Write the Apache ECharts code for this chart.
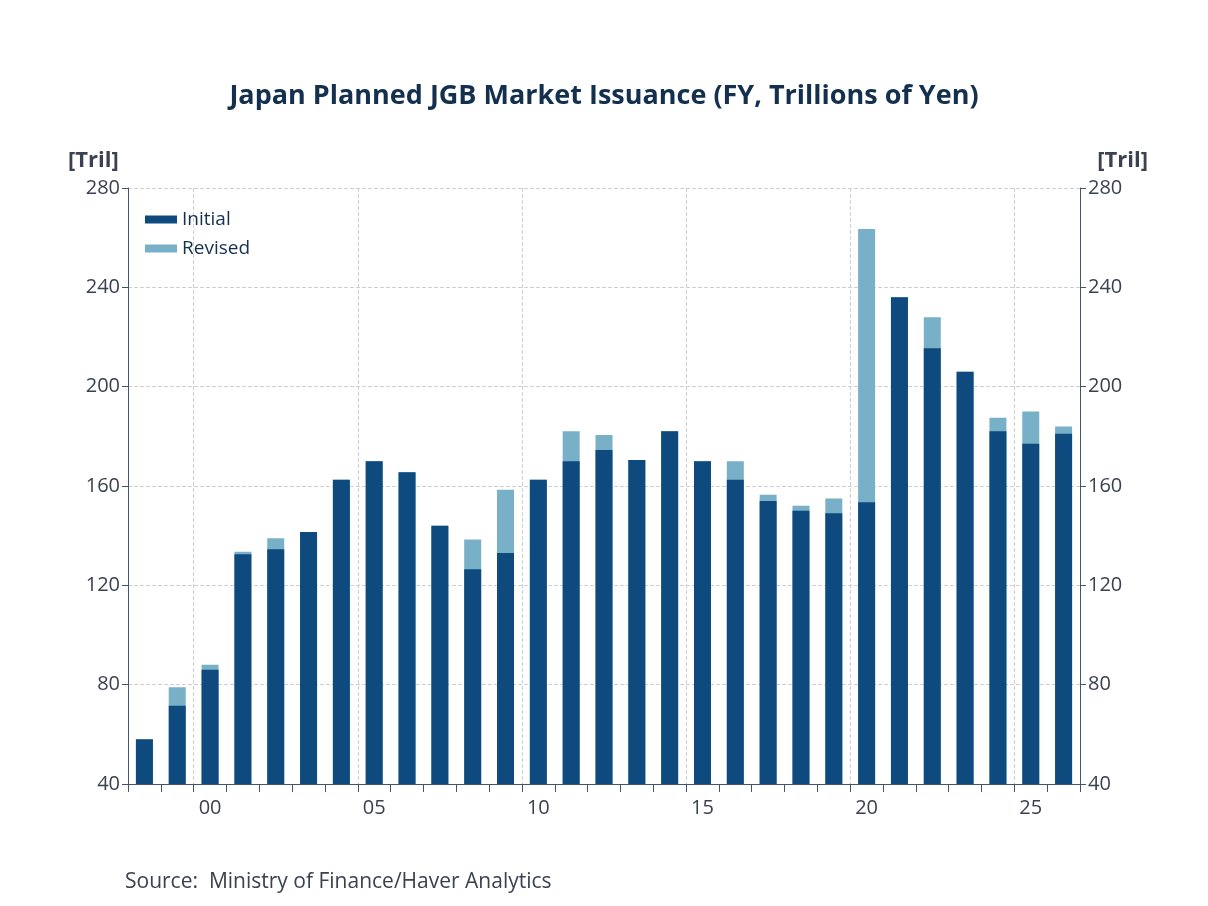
<!DOCTYPE html>
<html><head><meta charset="utf-8">
<script src="https://cdn.jsdelivr.net/npm/echarts@6/dist/echarts.min.js"></script>
<style>html,body{margin:0;padding:0;background:#fff}#c{width:1208px;height:906px}</style>
</head><body><div id="c"></div>
<script>
var years = ['98','99','00','01','02','03','04','05','06','07','08','09','10','11','12','13','14','15','16','17','18','19','20','21','22','23','24','25','26'];
var initial = [58,71.5,86,132.5,134.5,141.5,162.5,170,165.5,144,126.5,133,162.5,170,174.5,170.5,182,170,162.5,154,150,149,153.5,236,215.5,206,182,177,181];
var revised = [58,79,88,133.5,139,141.5,162.5,170,165.5,144,138.5,158.5,162.5,182,180.5,170.5,182,170,170,156.5,152,155,263.5,236,228,206,187.5,190,184];

var font = 'Open Sans';
var axisCol = '#44546a';
function yAxis(pos) {
  return {
    type: 'value', position: pos, min: 40, max: 280, interval: 40,
    axisLine: {show: true, lineStyle: {color: axisCol}},
    axisTick: {show: true, length: 6, inside: false, lineStyle: {color: axisCol}},
    axisLabel: {color: '#3a4150', fontSize: 20, fontFamily: font, margin: 8},
    splitLine: {show: pos === 'left', lineStyle: {color: '#d0d0d0', type: 'dashed'}}
  };
}
var chart = echarts.init(document.getElementById('c'));
chart.setOption({
  animation: false,
  title: {
    text: 'Japan Planned JGB Market Issuance (FY, Trillions of Yen)',
    left: 'center', top: 78,
    textStyle: {fontSize: 27, fontWeight: 'bold', color: '#14304f', fontFamily: font}
  },
  graphic: [
    {type: 'text', left: 68, top: 150, style: {text: '[Tril]', font: 'bold 22px "Open Sans"', fill: '#3a4150'}},
    {type: 'text', right: 60, top: 150, style: {text: '[Tril]', font: 'bold 22px "Open Sans"', fill: '#3a4150'}},
    {type: 'text', left: 125, top: 872, style: {text: 'Source:  Ministry of Finance/Haver Analytics', font: '21px "Open Sans"', fill: '#3a4150'}}
  ],
  legend: {
    orient: 'vertical', left: 140, top: 205, itemGap: 10,
    icon: 'rect', itemWidth: 32, itemHeight: 8,
    textStyle: {fontSize: 19, color: '#14304f', fontFamily: font},
    data: ['Initial', 'Revised']
  },
  grid: {left: 128, right: 128, top: 188, bottom: 122},
  xAxis: {
    type: 'category', data: years, boundaryGap: true,
    axisLine: {lineStyle: {color: axisCol}},
    axisTick: {show: true, length: 8, interval: 0, lineStyle: {color: axisCol}},
    axisLabel: {color: '#3a4150', fontSize: 20, fontFamily: font, margin: 14,
      interval: function (i) { return (i - 2) % 5 === 0; }},
    splitLine: {show: true, interval: function (i) { return (i - 2) % 5 === 0; },
      lineStyle: {color: '#d0d0d0', type: 'dashed'}}
  },
  yAxis: [yAxis('left'), yAxis('right')],
  series: [
    {name: 'Revised', type: 'bar', data: revised, barWidth: 17, itemStyle: {color: '#78b0c8'}, z: 2},
    {name: 'Initial', type: 'bar', data: initial, barWidth: 17, barGap: '-100%', itemStyle: {color: '#0f4a7e'}, z: 3}
  ]
});
</script></body></html>
